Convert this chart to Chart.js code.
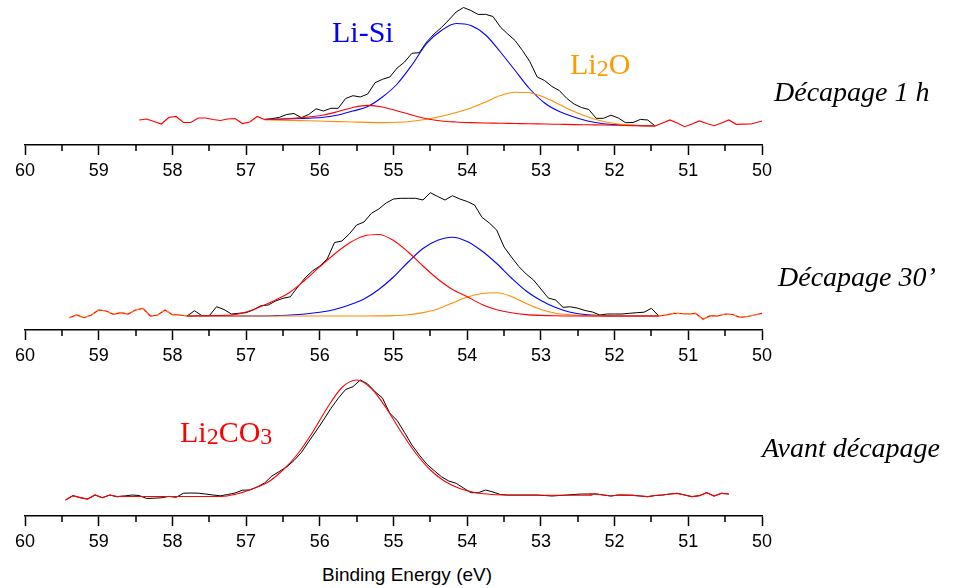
<!DOCTYPE html>
<html><head><meta charset="utf-8">
<script src="https://cdn.jsdelivr.net/npm/chart.js@4/dist/chart.umd.min.js"></script>
<style>
html,body{margin:0;padding:0;background:#fff;}
#wrap{position:relative;width:955px;height:588px;overflow:hidden;background:#fff;}
canvas{position:absolute;left:0;}
.lbl{position:absolute;white-space:nowrap;line-height:1;}
.ital{font-family:"Liberation Serif","Times New Roman",serif;font-style:italic;font-size:28px;color:#000;}
.chem{font-family:"Liberation Serif","Times New Roman",serif;font-size:30px;}
.chem .s{font-size:24px;position:relative;top:2px;}
.axt{font-family:"Liberation Sans",Arial,sans-serif;font-size:19px;color:#000;}
</style></head>
<body><div id="wrap">
<canvas id="c1" width="955" height="190" style="top:0px"></canvas>
<canvas id="c2" width="955" height="185" style="top:190px"></canvas>
<canvas id="c3" width="955" height="186" style="top:375px"></canvas>
<div class="lbl chem" style="left:332px;top:17px;color:#0000ff">Li-Si</div>
<div class="lbl chem" style="left:570px;top:49px;color:#ff9900">Li<span class="s">2</span>O</div>
<div class="lbl chem" style="left:180px;top:417px;color:#ff0000">Li<span class="s">2</span>CO<span class="s">3</span></div>
<div class="lbl ital" style="left:774px;top:78px">Décapage 1 h</div>
<div class="lbl ital" style="left:778px;top:263px">Décapage 30’</div>
<div class="lbl ital" style="left:762px;top:434px">Avant décapage</div>
<div class="lbl axt" style="left:322px;top:565px">Binding Energy (eV)</div>
</div>
<script>
// ---- axis ticks (Binding Energy, eV) ----
const majorTicks = [60, 59, 58, 57, 56, 55, 54, 53, 52, 51, 50];
const minorTicks = [59.5, 58.5, 57.5, 56.5, 55.5, 54.5, 53.5, 52.5, 51.5, 50.5];

// ---- Panel 1 : Décapage 1 h ----
const energy1 = [58.45,58.35,58.25,58.15,58.05,57.95,57.85,57.75,57.65,57.55,
  57.45,57.35,57.25,57.15,57.05,56.95,56.85,56.75,56.65,56.55,
  56.45,56.35,56.25,56.15,56.05,55.95,55.85,55.75,55.65,55.55,
  55.45,55.35,55.25,55.15,55.05,54.95,54.85,54.75,54.65,54.55,
  54.45,54.35,54.25,54.15,54.05,53.95,53.85,53.75,53.65,53.55,
  53.45,53.35,53.25,53.15,53.05,52.95,52.85,52.75,52.65,52.55,
  52.45,52.35,52.25,52.15,52.05,51.95,51.85,51.75,51.65,51.55,
  51.45,51.35,51.25,51.15,51.05,50.95,50.85,50.75,50.65,50.55,
  50.45,50.35,50.25,50.15,50.05,49.95];
const raw1 = [25,26,23.5,21,27.5,28.5,22.5,22.5,27,27,
  25.5,24.5,26,26.5,21.5,23,28.5,25.5,26.3,27.6,
  30.5,31.5,27.3,30.6,36.2,34,36.7,36.7,46.5,49.3,
  48,51,62.3,65.7,68,77,83,91.7,92.3,103,
  111,117.5,125,133,137.5,134.5,130.5,130.7,128.5,118,
  111,104.5,94.5,83.3,68,64.5,58.5,54.5,46.7,41,
  37.5,35.5,26.7,26.7,29.8,27,22.3,22.5,25.6,25,
  19,22,25,22,18.3,21,24,21.5,19.3,22,
  25,20.7,20.8,21,23,25];
const fitEnergy1 = [56.75,56.55,56.35,56.15,55.95,55.75,55.55,55.35,55.15,54.95,
  54.75,54.55,54.35,54.15,53.95,53.75,53.55,53.35,53.15,52.95,
  52.75,52.55,52.35,52.15,51.95,51.75,51.55,51.45];
const liSi1 = [25.5,25.8,26.2,26.8,27.7,30,34,38.5,48,61,
  80,101.5,114.5,121.5,119.5,110,93,74.5,56,42,
  33.5,28,23.7,21.3,20.2,19.6,19.2,19];
const li2co3_1 = [25.7,26,26.8,28,30,33.5,37.5,39.6,38,34,
  30,26.3,24,23,22.4,22,21.8,21.5,21.2,21,
  20.7,20.4,20.2,20,19.7,19.4,19.1,19];
const li2o1 = [25,24.8,24.5,24.2,23.8,23.4,23,22.6,22.4,22.7,
  23.8,25.8,28.8,32.5,37,43,49.5,52.8,52.3,47.5,
  40.5,33.5,27.8,23.5,21,19.8,19.2,19];

// ---- Panel 2 : Décapage 30' ----
const energy2 = [59.4,59.3,59.2,59.1,59.0,58.9,58.8,58.7,58.6,58.5,
  58.4,58.3,58.2,58.1,58.0,57.9,57.8,57.7,57.6,57.5,
  57.4,57.3,57.2,57.1,57.0,56.9,56.8,56.7,56.6,56.5,
  56.4,56.3,56.2,56.1,56.0,55.9,55.8,55.7,55.6,55.5,
  55.4,55.3,55.2,55.1,55.0,54.9,54.8,54.7,54.6,54.5,
  54.4,54.3,54.2,54.1,54.0,53.9,53.8,53.7,53.6,53.5,
  53.4,53.3,53.2,53.1,53.0,52.9,52.8,52.7,52.6,52.5,
  52.4,52.3,52.2,52.1,52.0,51.9,51.8,51.7,51.6,51.5,
  51.4,51.3,51.2,51.1,51.0,50.9,50.8,50.7,50.6,50.5,
  50.4,50.3,50.2,50.1,50.0,49.9];
const raw2 = [12.3,15,12.3,15,20,19,15.7,17.3,16,20,
  21.7,14,15,20,15.3,15,14,19.3,14.3,14.3,
  23.3,20.5,16,16.7,17.3,20.2,24.3,25,29,31.7,
  33.2,43,52,59,64,71,87.5,89,96,105,
  108,116.7,121,127,131,131.7,131.7,131.7,130,137.3,
  133.5,130,134.3,131,128.5,125,112.7,107,100,83,
  73,63.5,56,50,41,32,30,22.7,23.2,21.8,
  19.5,18,15,16,16,16,16.7,17.3,17.8,21.7,
  14,15,16.7,16.5,16,16.7,10.7,14.3,14,16,
  15.5,12.7,13.5,15,16.7,14];
const fitEnergy2 = [57.8,57.6,57.4,57.2,57.0,56.8,56.6,56.4,56.2,56.0,
  55.8,55.6,55.4,55.2,55.0,54.8,54.6,54.4,54.2,54.0,
  53.8,53.6,53.4,53.2,53.0,52.8,52.6,52.4,52.2,52.0,
  51.8,51.6,51.4];
const li2co3_2 = [14,14.2,14.5,15,18,23.5,30,38,50,63.3,
  76,87,94,95.5,89.5,78,64,51,40.5,33.3,
  25.5,20.3,17.2,15.4,14.6,14.2,14,14,14,14,
  14,14,14];
const liSi2 = [14,14,14,14,14,14,14.4,15,16,17.7,
  20.5,25,31,40.5,53,68,81.5,89.7,92.8,88.5,
  79,66.5,52,39,29.5,22.5,17.8,15.5,14.4,14,
  14,14,14];
const li2o2 = [14,14,14,14,14,14,14,14,14,14,
  14,14,14,14.1,14.4,15.2,17.4,21,27,33,
  36.5,37.3,33.5,26.5,20.5,16.8,15.2,14.4,14.1,14,
  14,14,14];

// ---- Panel 3 : Avant décapage ----
const energy3 = [59.45,59.35,59.25,59.15,59.05,58.95,58.85,58.75,58.65,58.55,
  58.45,58.35,58.25,58.15,58.05,57.95,57.85,57.75,57.65,57.55,
  57.45,57.35,57.25,57.15,57.05,56.95,56.85,56.75,56.65,56.55,
  56.45,56.35,56.25,56.15,56.05,55.95,55.85,55.75,55.65,55.55,
  55.45,55.35,55.25,55.15,55.05,54.95,54.85,54.75,54.65,54.55,
  54.45,54.35,54.25,54.15,54.05,53.95,53.85,53.75,53.65,53.55,
  53.45,53.35,53.25,53.15,53.05,52.95,52.85,52.75,52.65,52.55,
  52.45,52.35,52.25,52.15,52.05,51.95,51.85,51.75,51.65,51.55,
  51.45,51.35,51.25,51.15,51.05,50.95,50.85,50.75,50.65,50.55,
  50.45];
const raw3 = [16,20.3,18.3,17,21,18.3,21,19.3,20,21,
  20.5,17.5,17.8,18.2,19.6,18.7,22.8,23,22.8,22,
  21,20.2,21.5,23,25.8,26,29,33,40,44.5,
  49,55.5,63.5,74.5,85,96,107.5,117.7,126.5,129.3,
  136,132,124.3,118,102.7,95.5,83.5,71,61,52,
  45.5,39.3,35,32.7,28,23.3,23.3,26,24,21.5,
  21,21,21,21,21,20.5,20,20.5,21,21.5,
  22,22,22,21,20,21,20.8,20.7,20,19.3,
  20.5,21,22,22.7,21,19.3,20.3,23.3,20,22.7,
  22];
const fitEnergy3 = [58.7,58.5,58.3,58.1,57.9,57.7,57.5,57.3,57.1,56.9,
  56.7,56.5,56.3,56.1,55.9,55.7,55.5,55.3,55.1,54.9,
  54.7,54.5,54.3,54.1,53.9,53.7,53.5,53.3,53.1,52.9,
  52.7,52.5,52.3];
const li2co3_3 = [19.5,19.5,19.5,19.5,19.5,19.5,19.5,19.8,22.5,27.5,
  34,46,62,83.5,108,128.5,136,127.5,108,84.5,
  63,46,34.5,27.5,23.5,21.8,21,20.7,20.7,20.7,
  20.7,20.7,20.7];

// ---- helpers ----
const BLACK = '#000000', RED = '#ff0000', BLUE = '#0000ff', ORANGE = '#ff8c00';
function pts(xs, ys) { return xs.map((x, i) => ({ x: x, y: ys[i] })); }
function inside(xs, ys, lo, hi) { return xs.map((x, i) => ({ x: x, y: (x >= lo - 1e-6 && x <= hi + 1e-6) ? ys[i] : null })); }
function outside(xs, ys, lo, hi) { return xs.map((x, i) => ({ x: x, y: (x <= lo + 0.06 || x >= hi - 0.06) ? ys[i] : null })); }
function rawSet(data) { return { data: data, borderColor: BLACK, borderWidth: 1, tension: 0, order: 10, spanGaps: false }; }
function fitSet(data, color, order) { return { data: data, borderColor: color, borderWidth: 1.1, cubicInterpolationMode: 'monotone', order: order }; }
function wingSet(data, color, order, dash) { return { data: data, borderColor: color, borderWidth: 1.2, tension: 0, order: order, spanGaps: false, borderDash: dash || [] }; }

const minorTickPlugin = {
  id: 'minorTicks',
  afterDraw(chart) {
    const s = chart.scales.x, ctx = chart.ctx;
    ctx.save();
    ctx.strokeStyle = '#000'; ctx.lineWidth = 1.5;
    ctx.beginPath();
    minorTicks.forEach(v => { const px = Math.round(s.getPixelForValue(v)); ctx.moveTo(px, s.top); ctx.lineTo(px, s.top + 6); });
    ctx.stroke();
    ctx.restore();
  }
};

function makePanel(id, yMax, datasets) {
  return new Chart(document.getElementById(id), {
    type: 'line',
    data: { datasets: datasets },
    options: {
      responsive: false, animation: false, events: [],
      layout: { padding: { left: 25, right: 193, top: 0, bottom: 0 } },
      plugins: { legend: { display: false }, tooltip: { enabled: false }, title: { display: false } },
      elements: { point: { radius: 0 } },
      scales: {
        x: {
          type: 'linear', reverse: true, min: 50, max: 60,
          afterBuildTicks: s => { s.ticks = majorTicks.map(v => ({ value: v })); },
          afterFit: s => { s.height = 45; },
          border: { display: true, color: '#000', width: 1.5 },
          grid: { drawOnChartArea: false, drawTicks: true, tickLength: 10, tickColor: '#000', tickWidth: 1.5 },
          ticks: { color: '#000', padding: 5, maxRotation: 0, autoSkip: false,
                   font: { family: '"Liberation Sans", Arial, sans-serif', size: 18 } }
        },
        y: { display: false, min: 0, max: yMax }
      }
    },
    plugins: [minorTickPlugin]
  });
}

// Panel 1
makePanel('c1', 145, [
  rawSet(inside(energy1, raw1, 51.45, 56.75)),
  fitSet(pts(fitEnergy1, liSi1), BLUE, 3),
  fitSet(pts(fitEnergy1, li2o1), ORANGE, 2),
  fitSet(pts(fitEnergy1, li2co3_1), RED, 1),
  wingSet(outside(energy1, raw1, 51.45, 56.75), RED, 0)
]);
// Panel 2
makePanel('c2', 140, [
  rawSet(inside(energy2, raw2, 51.4, 57.8)),
  fitSet(pts(fitEnergy2, liSi2), BLUE, 3),
  fitSet(pts(fitEnergy2, li2o2), ORANGE, 2),
  fitSet(pts(fitEnergy2, li2co3_2), RED, 1),
  wingSet(outside(energy2, raw2, 51.4, 57.8), RED, 0.5),
  wingSet(outside(energy2, raw2, 51.4, 57.8), ORANGE, 0, [3, 3])
]);
// Panel 3
makePanel('c3', 141, [
  rawSet(pts(energy3, raw3)),
  fitSet(pts(fitEnergy3, li2co3_3), RED, 1),
  wingSet(outside(energy3, raw3, 52.3, 58.7), RED, 0)
]);
</script>
</body></html>
